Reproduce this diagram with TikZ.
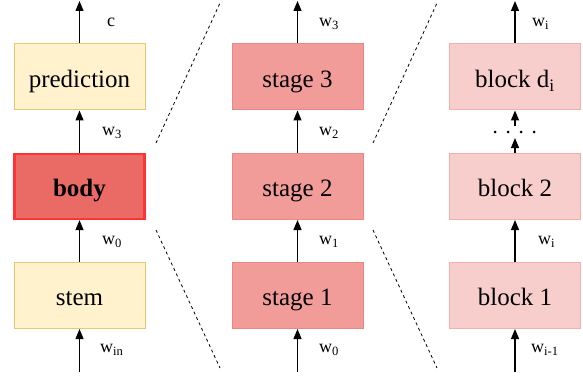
\documentclass[tikz,border=0pt]{standalone}
\usepackage{fontspec}
\setmainfont{Liberation Serif}
\usetikzlibrary{arrows.meta}
\definecolor{yfill}{HTML}{FFF2CC}
\definecolor{ydraw}{HTML}{E3C878}
\definecolor{bodyfill}{HTML}{EA6B66}
\definecolor{bodydraw}{HTML}{FF3333}
\definecolor{stfill}{HTML}{F19C99}
\definecolor{stdraw}{HTML}{EE8582}
\definecolor{blfill}{HTML}{F8CECC}
\definecolor{bldraw}{HTML}{F4AEAC}
\tikzset{
  box/.style={draw, line width=1pt, minimum width=131pt, minimum height=66pt, inner sep=0pt, text height=25pt, text depth=4.4pt, font=\fontsize{25}{28}\selectfont},
  ybox/.style={box, fill=yfill, draw=ydraw},
  bodybox/.style={box, fill=bodyfill, draw=bodydraw, line width=2.2pt, minimum width=130pt, minimum height=65pt},
  stbox/.style={box, fill=stfill, draw=stdraw},
  blbox/.style={box, fill=blfill, draw=bldraw},
  arr/.style={-{Triangle[length=10pt,width=8pt]}, line width=1.2pt, black},
  lbl/.style={anchor=west, inner sep=0pt, font=\fontsize{18}{21}\selectfont},
  guide/.style={line width=0.8pt, dash pattern=on 3pt off 3pt},
  dotm/.style={circle, fill=black, inner sep=0pt, minimum size=3pt}
}
\begin{document}
\begin{tikzpicture}[x=1pt, y=-1pt]
\useasboundingbox (0,0) rectangle (583,377);
% left column
\node[ybox] (pred) at (79.5,77) {prediction};
\node[bodybox] (body) at (79.5,186.5) {\textbf{body}};
\node[ybox] (stem) at (79.5,295.5) {stem};
\coordinate (lin) at (79.5,372);
\coordinate (lout) at (79.5,1);
\draw[arr] (lin) -- (stem.south);
\draw[arr] (stem.north) -- (body.south);
\draw[arr] (body.north) -- (pred.south);
\draw[arr] (pred.north) -- (lout);
\node[lbl] (lc) at (107,22) {c};
\node[lbl] (lw3) at (102,133) {w\textsubscript{3}};
\node[lbl] (lw0) at (102,242) {w\textsubscript{0}};
\node[lbl] (lwin) at (100,350) {w\textsubscript{in}};
% middle column
\node[stbox] (s3) at (297.5,77) {stage 3};
\node[stbox] (s2) at (297.5,186.5) {stage 2};
\node[stbox] (s1) at (297.5,295.5) {stage 1};
\coordinate (min) at (297.5,372);
\coordinate (mout) at (297.5,1);
\draw[arr] (min) -- (s1.south);
\draw[arr] (s1.north) -- (s2.south);
\draw[arr] (s2.north) -- (s3.south);
\draw[arr] (s3.north) -- (mout);
\node[lbl] (mw3) at (319,24) {w\textsubscript{3}};
\node[lbl] (mw2) at (319,133) {w\textsubscript{2}};
\node[lbl] (mw1) at (319,242) {w\textsubscript{1}};
\node[lbl] (mw0) at (319,350) {w\textsubscript{0}};
% right column
\node[blbox] (bd) at (515,77) {block d\textsubscript{i}};
\node[blbox] (b2) at (515,186.5) {block 2};
\node[blbox] (b1) at (515,295.5) {block 1};
\coordinate (rin) at (515,372);
\coordinate (rout) at (515,1);
\coordinate (gapa) at (515,138);
\coordinate (gapb) at (515,126);
\draw[arr] (rin) -- (b1.south);
\draw[arr] (b1.north) -- (b2.south);
\draw[arr] (b2.north) -- (gapa);
\draw[arr] (gapb) -- (bd.south);
\draw[arr] (bd.north) -- (rout);
\node[dotm] (d1) at (495,132) {};
\node[dotm] (d2) at (508,132) {};
\node[dotm] (d3) at (521,132) {};
\node[dotm] (d4) at (534,132) {};
\node[lbl] (rwi) at (532,24) {w\textsubscript{i}};
\node[lbl] (rwi2) at (538,242) {w\textsubscript{i}};
\node[lbl] (rwim) at (531,350) {w\textsubscript{i-1}};
% guide lines
\coordinate (g1a) at (156,143);
\coordinate (g1b) at (220,3);
\coordinate (g2a) at (156,230);
\coordinate (g2b) at (220,368);
\coordinate (g3a) at (373,143);
\coordinate (g3b) at (437,3);
\coordinate (g4a) at (373,230);
\coordinate (g4b) at (437,368);
\draw[guide] (g1a) -- (g1b);
\draw[guide] (g2a) -- (g2b);
\draw[guide] (g3a) -- (g3b);
\draw[guide] (g4a) -- (g4b);
\end{tikzpicture}
\end{document}
